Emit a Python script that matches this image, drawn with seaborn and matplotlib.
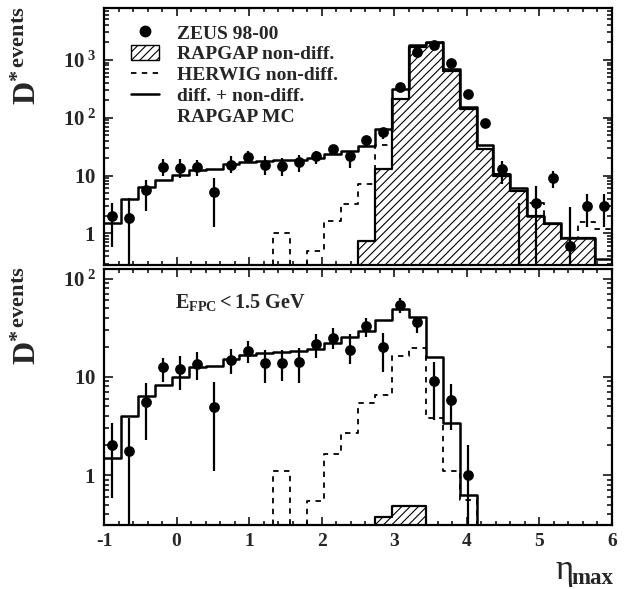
import numpy as np
import matplotlib
matplotlib.use("Agg")
import matplotlib.pyplot as plt
import seaborn as sns
from matplotlib.lines import Line2D
from matplotlib.patches import Patch
from matplotlib.ticker import FixedLocator, FixedFormatter, LogLocator, NullFormatter, MultipleLocator

# ---------------- data ----------------
eta_lo, eta_hi, n_bins = -1.0, 6.0, 30

# upper panel
top_data = [2.0, 1.82, 5.6, 13.9, 13.6, 13.9, 5.2, 15.3, 21.3, 15.5,
            14.8, 16.9, 22.0, 29.0, 22.0, 40.6, 55.8, 338, 1356, 1815,
            877, 256, 79.8, 13.2, 0.1, 3.4, 9.1, 0.6, 3.0, 3.0]
top_lo = [0.57, 0.05, 2.4, 9.8, 9.1, 10.0, 1.3, 11.1, 17.0, 10.4,
          9.7, 11.3, 15.8, 24.0, 13.6, 32.0, 43.0, 310, 1290, 1740,
          830, 235, 70.0, 7.0, 0.05, 0.05, 6.2, 0.05, 1.3, 1.3]
top_hi = [3.3, 4.1, 8.5, 19.4, 19.4, 18.2, 9.1, 21.6, 26.3, 21.6,
          20.2, 22.3, 26.3, 33.0, 26.3, 48.0, 66.0, 370, 1420, 1890,
          925, 278, 90.0, 17.6, 3.4, 6.5, 11.9, 2.85, 4.8, 4.8]
top_herwig = [0, 0, 0, 0, 0, 0, 0, 0, 0, 0,
              1.0, 0, 0.5, 1.63, 3.16, 7.0, 34.0, 200, 1750, 2000,
              660, 148, 29.0, 10.5, 3.7, 3.3, 1.17, 0.57, 1.6, 1.17]
top_rapgap_nd = [0, 0, 0, 0, 0, 0, 0, 0, 0, 0,
                 0, 0, 0, 0, 0, 0.74, 13.0, 214, 1700, 1940,
                 630, 141, 29.0, 10.0, 5.5, 2.0, 1.45, 0.82, 0.82, 0]
top_total = [1.49, 4.0, 6.3, 8.2, 10.4, 12.3, 13.2, 15.9, 17.2, 17.6,
             18.2, 18.9, 20.2, 23.7, 26.3, 33.0, 63.0, 312, 1815, 2070,
             690, 153, 33.5, 10.8, 6.0, 2.03, 1.5, 0.83, 0.83, 0.36]

# lower panel (E_FPC < 1.5 GeV)
bot_data = [2.02, 1.75, 5.5, 12.6, 12.0, 13.5, 4.96, 14.8, 18.4, 13.7,
            13.9, 14.2, 21.4, 25.0, 18.7, 32.6, 20.2, 53.7, 35.7, 9.0,
            5.8, 1.0, np.nan, np.nan, np.nan, np.nan, np.nan, np.nan, np.nan, np.nan]
bot_lo = [0.59, 0.05, 2.27, 8.9, 7.3, 9.3, 1.1, 10.6, 13.9, 8.7,
          9.1, 8.6, 15.7, 19.0, 13.4, 25.5, 11.2, 44.2, 27.6, 3.6,
          2.9, 0.05, np.nan, np.nan, np.nan, np.nan, np.nan, np.nan, np.nan, np.nan]
bot_hi = [3.4, 3.8, 8.7, 15.4, 16.4, 17.7, 8.8, 19.0, 23.2, 18.7,
          18.7, 19.5, 27.2, 31.0, 27.0, 40.0, 27.6, 62.9, 41.0, 14.2,
          8.5, 2.0, np.nan, np.nan, np.nan, np.nan, np.nan, np.nan, np.nan, np.nan]
bot_herwig = [0, 0, 0, 0, 0, 0, 0, 0, 0, 0,
              1.1, 0, 0.55, 1.64, 2.7, 5.4, 6.5, 16.4, 19.4, 3.8,
              1.1, 0.56, 0, 0, 0, 0, 0, 0, 0, 0]
bot_rapgap_nd = [0, 0, 0, 0, 0, 0, 0, 0, 0, 0,
                 0, 0, 0, 0, 0, 0, 0.37, 0.48, 0.48, 0,
                 0, 0, 0, 0, 0, 0, 0, 0, 0, 0]
bot_total = [1.5, 4.0, 6.4, 8.2, 10.0, 12.5, 12.9, 15.1, 16.6, 17.3,
             17.7, 18.2, 19.3, 21.9, 25.2, 29.4, 37.5, 48.5, 40.8, 15.8,
             3.36, 0.62, 0, 0, 0, 0, 0, 0, 0, 0]

legend_labels = ["ZEUS 98-00", "RAPGAP non-diff.", "HERWIG non-diff.",
                 "diff. + non-diff.", "RAPGAP MC"]
x_ticks = [-1, 0, 1, 2, 3, 4, 5, 6]
x_ticklabels = ["-1", "0", "1", "2", "3", "4", "5", "6"]
top_yticks = [1, 10, 100, 1000]
top_yticklabels = [r"$\mathbf{1}$", r"$\mathbf{10}$", r"$\mathbf{10^{\;2}}$", r"$\mathbf{10^{\;3}}$"]
bot_yticks = [1, 10, 100]
bot_yticklabels = [r"$\mathbf{1}$", r"$\mathbf{10}$", r"$\mathbf{10^{\;2}}$"]

# ---------------- style ----------------
sns.set_style("ticks")
plt.rcParams["font.family"] = ["Liberation Serif", "DejaVu Serif"]
plt.rcParams["font.weight"] = "bold"
plt.rcParams["axes.unicode_minus"] = False
plt.rcParams["mathtext.fontset"] = "custom"
plt.rcParams["mathtext.rm"] = "Liberation Serif"
plt.rcParams["mathtext.bf"] = "Liberation Serif:bold"
plt.rcParams["mathtext.it"] = "Liberation Serif:italic"
plt.rcParams["hatch.linewidth"] = 0.8

edges = list(np.linspace(eta_lo, eta_hi, n_bins + 1))
centers = 0.5 * (np.array(edges[:-1]) + np.array(edges[1:]))

fig = plt.figure(figsize=(6.28, 5.89), dpi=100)
W, H = 628.0, 589.0
ax1 = fig.add_axes([104 / W, 1 - 265 / H, 508 / W, 257 / H])
ax2 = fig.add_axes([104 / W, 1 - 525 / H, 508 / W, 256 / H])

DASH = (0, (3, 3))
HATCH = "////"


def draw(ax, herwig, rapgap, total, data, lo, hi, ylim, yt, ytl, show_x):
    ax.set_yscale("log")
    sns.histplot(x=centers, weights=np.asarray(herwig, float), bins=edges, element="step",
                 fill=False, color="black", linestyle=DASH, linewidth=1.3, ax=ax, zorder=2)
    sns.histplot(x=centers, weights=np.asarray(rapgap, float), bins=edges, element="step",
                 fill=True, facecolor="white", edgecolor="black", hatch=HATCH,
                 linewidth=1.6, alpha=1, ax=ax, zorder=3)
    sns.histplot(x=centers, weights=np.asarray(total, float), bins=edges, element="step",
                 fill=False, color="black", linewidth=1.8, ax=ax, zorder=4)
    d = np.asarray(data, float)
    l = np.asarray(lo, float)
    h = np.asarray(hi, float)
    ax.errorbar(centers, d, yerr=[d - l, h - d], fmt="none", ecolor="black",
                elinewidth=1.6, capsize=0, zorder=5)
    sns.scatterplot(x=centers, y=d, color="black", s=60, edgecolor="black",
                    linewidth=0, ax=ax, zorder=6)
    ax.set_xlim(eta_lo, eta_hi)
    ax.set_ylim(*ylim)
    ax.set_xlabel("")
    ax.set_ylabel("")
    ax.xaxis.set_major_locator(FixedLocator(x_ticks))
    ax.xaxis.set_minor_locator(MultipleLocator(0.2))
    ax.yaxis.set_major_locator(FixedLocator(yt))
    ax.yaxis.set_major_formatter(FixedFormatter(ytl))
    ax.yaxis.set_minor_locator(LogLocator(base=10, subs=np.arange(2, 10), numticks=30))
    ax.yaxis.set_minor_formatter(NullFormatter())
    ax.tick_params(which="both", direction="in", top=True, right=True,
                   width=1.1, color="black")
    ax.tick_params(axis="x", which="major", length=5.5, pad=6, labelsize=14)
    ax.tick_params(axis="x", which="minor", length=3)
    ax.tick_params(axis="y", which="major", length=6.5, pad=6, labelsize=15)
    ax.tick_params(axis="y", which="minor", length=3.5)
    if show_x:
        ax.set_xticklabels(x_ticklabels, fontweight="bold")
    else:
        ax.tick_params(axis="x", labelbottom=False)
    for s in ax.spines.values():
        s.set_linewidth(1.6)
        s.set_color("black")
        s.set_zorder(10)


draw(ax1, top_herwig, top_rapgap_nd, top_total, top_data, top_lo, top_hi,
     (0.283, 7900), top_yticks, top_yticklabels, False)
draw(ax2, bot_herwig, bot_rapgap_nd, bot_total, bot_data, bot_lo, bot_hi,
     (0.31, 125), bot_yticks, bot_yticklabels, True)

# legend
handles = [
    Line2D([], [], marker="o", color="black", linestyle="none", markersize=7.5),
    Patch(facecolor="white", edgecolor="black", hatch=HATCH, linewidth=1.0),
    Line2D([], [], color="black", linestyle=DASH, linewidth=1.3),
    Line2D([], [], color="black", linewidth=1.8),
    Line2D([], [], color="none"),
]
ax1.legend(handles, legend_labels, loc="upper left", bbox_to_anchor=(0.053, 0.937),
           frameon=False, handlelength=1.45, handleheight=0.85, handletextpad=0.9,
           labelspacing=0.115, borderaxespad=0, borderpad=0,
           prop={"family": "Liberation Serif", "weight": "bold", "size": 14})

ax2.text(0.139, 0.87, r"$\mathbf{E_{FPC}<1.5\ GeV}$", transform=ax2.transAxes,
         fontsize=14.5, ha="left", va="center")

ylab = r"$\mathbf{D}^{\mathbf{*}\,\mathrm{events}}$"
fig.text(28 / W, 1 - 6 / H, ylab, rotation=90, ha="center", va="top", fontsize=23)
fig.text(28 / W, 1 - 266 / H, ylab, rotation=90, ha="center", va="top", fontsize=23)
fig.text(555 / W, 1 - 579 / H, "\u03b7", ha="left", va="baseline",
         fontsize=25, fontweight="normal")
fig.text(571 / W, 1 - 584 / H, "max", ha="left", va="baseline",
         fontsize=16.5, fontweight="bold")

fig.savefig("out.png", dpi=100)
